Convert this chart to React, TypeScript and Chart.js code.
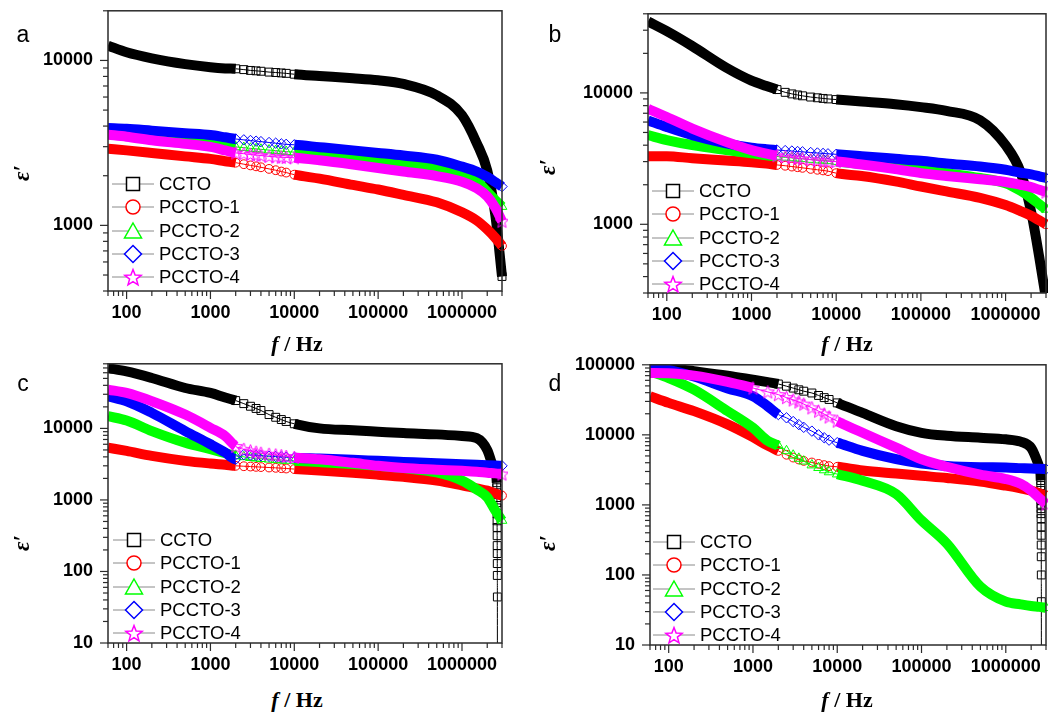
import React, { useEffect, useRef } from "react";
import { Chart, registerables } from "chart.js";

Chart.register(...registerables);

// ---------- data ----------
const FREQ = [60, 100, 200, 500, 1000, 1500, 2000, 2500, 3000, 3500, 4000, 5000, 6000, 7000, 8000, 10000, 20000, 50000, 100000, 200000, 500000, 1000000, 1500000, 2000000, 2500000, 3000000];
const TAIL_FREQ = [2600000, 2603000, 2606000, 2609000, 2612000, 2615000, 2618000, 2621000, 2624000, 2627000, 2630000, 2633000, 2636000, 2639000, 2642000, 2645000];

const SERIES_NAMES = ["CCTO", "PCCTO-1", "PCCTO-2", "PCCTO-3", "PCCTO-4"];
const SERIES_COLORS = ["#000000", "#ff0000", "#00ff00", "#0000ff", "#ff00ff"];

const X_TICK_LABELS = [100, 1000, 10000, 100000, 1000000];
const A_Y_LABELS = [1000, 10000];
const B_Y_LABELS = [1000, 10000];
const C_Y_LABELS = [10, 100, 1000, 10000];
const D_Y_LABELS = [10, 100, 1000, 10000, 100000];

// panel a
const A_CCTO = [12300, 11200, 10300, 9500, 9100, 8950, 8900, 8800, 8700, 8650, 8600, 8500, 8450, 8400, 8350, 8250, 8050, 7800, 7580, 7200, 6150, 4660, 3150, 2150, 1150, 490];
const A_P1 = [2920, 2850, 2750, 2620, 2530, 2450, 2400, 2350, 2310, 2280, 2250, 2200, 2160, 2120, 2090, 2030, 1920, 1760, 1650, 1530, 1380, 1200, 1070, 945, 840, 750];
const A_P2 = [3600, 3500, 3380, 3230, 3100, 3030, 2990, 2960, 2930, 2910, 2890, 2860, 2840, 2820, 2800, 2780, 2700, 2560, 2450, 2350, 2230, 2080, 1850, 1600, 1420, 1300];
const A_P3 = [3900, 3850, 3750, 3620, 3530, 3420, 3340, 3300, 3270, 3240, 3220, 3180, 3150, 3120, 3100, 3080, 2980, 2850, 2750, 2650, 2500, 2270, 2120, 1970, 1830, 1720];
const A_P4 = [3550, 3450, 3280, 3120, 2990, 2850, 2750, 2720, 2690, 2670, 2650, 2620, 2600, 2590, 2580, 2570, 2480, 2340, 2230, 2120, 1990, 1840, 1680, 1500, 1280, 1060];

// panel b
const B_CCTO = [35000, 29500, 22700, 15600, 12400, 11300, 10600, 10100, 9830, 9650, 9500, 9300, 9180, 9080, 9000, 8900, 8600, 8200, 7800, 7300, 6200, 4000, 2500, 1250, 560, 270];
const B_P1 = [3300, 3300, 3180, 3060, 2970, 2900, 2830, 2790, 2750, 2720, 2690, 2640, 2600, 2570, 2540, 2450, 2330, 2120, 1940, 1780, 1590, 1400, 1260, 1160, 1070, 1000];
const B_P2 = [4770, 4380, 4010, 3680, 3470, 3350, 3280, 3230, 3200, 3170, 3150, 3110, 3080, 3060, 3040, 3000, 2880, 2740, 2600, 2450, 2250, 2050, 1800, 1590, 1420, 1300];
const B_P3 = [6180, 5500, 4770, 4130, 3830, 3730, 3680, 3640, 3610, 3580, 3560, 3520, 3490, 3460, 3440, 3410, 3300, 3150, 3040, 2900, 2750, 2600, 2470, 2400, 2320, 2250];
const B_P4 = [7570, 6560, 5350, 4250, 3670, 3450, 3330, 3270, 3220, 3180, 3150, 3100, 3070, 3040, 3020, 3000, 2850, 2630, 2450, 2330, 2200, 2100, 2000, 1920, 1830, 1760];

// panel c
const C_CCTO = [69600, 62500, 50600, 36700, 31300, 27000, 24500, 22200, 20400, 19000, 17800, 15600, 14300, 13300, 12500, 11600, 10000, 9400, 8990, 8600, 8250, 7830, 7300, 5000, 2400, null];
const C_CCTO_TAIL = [1740, 1480, 1260, 1080, 917, 774, 640, 511, 412, 316, 230, 178, 129, 88, 44, 1];
const C_P1 = [5380, 4840, 4130, 3520, 3230, 3100, 3000, 2960, 2930, 2900, 2880, 2840, 2810, 2780, 2750, 2700, 2580, 2400, 2250, 2100, 1860, 1600, 1450, 1350, 1230, 1150];
const C_P2 = [14800, 12900, 9180, 6320, 5110, 4500, 4130, 4000, 3900, 3830, 3770, 3700, 3640, 3600, 3560, 3520, 3380, 3180, 3000, 2800, 2420, 1860, 1400, 1090, 710, 516];
const C_P3 = [28100, 24000, 16500, 9180, 6000, 4600, 3700, 4300, 4250, 4200, 4150, 4080, 4040, 4000, 3970, 3900, 3800, 3650, 3520, 3400, 3250, 3160, 3100, 3050, 3020, 3000];
const C_P4 = [34800, 31300, 24000, 15600, 10200, 7800, 5600, 5100, 4840, 4650, 4500, 4350, 4250, 4150, 4050, 3920, 3700, 3300, 3000, 2800, 2650, 2550, 2480, 2400, 2350, 2300];

// panel d
const D_CCTO = [94700, 89700, 81000, 70000, 61200, 56500, 53200, 49500, 46500, 44000, 42000, 39600, 36500, 34000, 32000, 28600, 20600, 13300, 10700, 9700, 9100, 8630, 8000, 6500, 3500, null];
const D_CCTO_TAIL = [2230, 1890, 1610, 1360, 1160, 1020, 884, 750, 637, 484, 369, 267, 182, 100, 41.5, 1];
const D_P1 = [35600, 28600, 21800, 14100, 9270, 7000, 5900, 5200, 4740, 4450, 4250, 4030, 3850, 3700, 3580, 3500, 3100, 2800, 2600, 2420, 2150, 1880, 1720, 1600, 1470, 1360];
const D_P2 = [80400, 64700, 44100, 21800, 12600, 8190, 7000, 5900, 5100, 4600, 4200, 3700, 3400, 3150, 2950, 2750, 2210, 1430, 600, 280, 68, 41.5, 38, 36, 35, 34];
const D_P3 = [94700, 84900, 68000, 46000, 35600, 25500, 19500, 17500, 15500, 14000, 12800, 11300, 10000, 9100, 8400, 7740, 5900, 4490, 3900, 3600, 3450, 3420, 3350, 3300, 3270, 3240];
const D_P4 = [76300, 76000, 70000, 57000, 46600, 41000, 37500, 34000, 31500, 29500, 27500, 24300, 21800, 19800, 18000, 15700, 10700, 6570, 4490, 3500, 2700, 2340, 2000, 1600, 1250, 1030];

// ---------- layout / style ----------
const Y_AXIS_W = 108;
const X_AXIS_H = 44;
const PAD_T = 24;
const PAD_R = 24;
const BAND = 10;
const POINT_STYLES = ["rect", "circle", "triangle", "rectRot", "star"];
const POINT_RADII = [5.6, 4.4, 5.6, 5.2, 6];
const TICK_FONT = "'Liberation Sans', Arial, sans-serif";

type PanelDef = {
  id: string;
  l: number; t: number; r: number; b: number;
  yMin: number; yMax: number; yLabels: number[];
  series: (number | null)[][];
  tail: number[] | null;
  p4Sparse: number;
  legend: { x: number; y: number };
  letter: { x: number; y: number };
  xTitle: { x: number; y: number };
  yTitle: { x: number; y: number };
};

const PANELS: PanelDef[] = [
  { id: "a", l: 108, t: 9, r: 502, b: 291, yMin: 400, yMax: 20000, yLabels: A_Y_LABELS,
    series: [A_CCTO, A_P1, A_P2, A_P3, A_P4], tail: null, p4Sparse: 2000,
    legend: { x: 112, y: 184 }, letter: { x: 23, y: 34 }, xTitle: { x: 297, y: 344 }, yTitle: { x: 22, y: 173 } },
  { id: "b", l: 648, t: 12, r: 1046, b: 293, yMin: 300, yMax: 40000, yLabels: B_Y_LABELS,
    series: [B_CCTO, B_P1, B_P2, B_P3, B_P4], tail: null, p4Sparse: 2000,
    legend: { x: 652, y: 191 }, letter: { x: 555, y: 34 }, xTitle: { x: 847, y: 344 }, yTitle: { x: 548, y: 167 } },
  { id: "c", l: 108, t: 362, r: 502, b: 643, yMin: 10, yMax: 80000, yLabels: C_Y_LABELS,
    series: [C_CCTO, C_P1, C_P2, C_P3, C_P4], tail: C_CCTO_TAIL, p4Sparse: 2000,
    legend: { x: 113, y: 540 }, letter: { x: 23, y: 383 }, xTitle: { x: 297, y: 700 }, yTitle: { x: 22, y: 543 } },
  { id: "d", l: 650, t: 363, r: 1046, b: 645, yMin: 10, yMax: 100000, yLabels: D_Y_LABELS,
    series: [D_CCTO, D_P1, D_P2, D_P3, D_P4], tail: D_CCTO_TAIL, p4Sparse: 1000,
    legend: { x: 653, y: 542 }, letter: { x: 555, y: 383 }, xTitle: { x: 847, y: 700 }, yTitle: { x: 548, y: 543 } },
];

function logTicks(min: number, max: number) {
  const out: { value: number; major: boolean }[] = [];
  const e0 = Math.floor(Math.log10(min));
  const e1 = Math.ceil(Math.log10(max));
  for (let e = e0; e <= e1; e++) {
    for (let m = 1; m <= 9; m++) {
      const v = m * Math.pow(10, e);
      if (v >= min * 0.9999 && v <= max * 1.0001) out.push({ value: v, major: m === 1 });
    }
  }
  return out;
}

const hasLabel = (labels: number[], v: number) => labels.some((l) => Math.abs(l - v) / l < 1e-6);

function makeStar(color: string) {
  const c = document.createElement("canvas");
  c.width = 15;
  c.height = 15;
  const g = c.getContext("2d")!;
  g.strokeStyle = color;
  g.lineWidth = 1;
  g.beginPath();
  for (let i = 0; i < 10; i++) {
    const r = i % 2 === 0 ? 7 : 3;
    const a = -Math.PI / 2 + (i * Math.PI) / 5;
    const x = 7.5 + r * Math.cos(a);
    const y = 8 + r * Math.sin(a);
    if (i === 0) g.moveTo(x, y);
    else g.lineTo(x, y);
  }
  g.closePath();
  g.stroke();
  return c;
}

const frameTicks = {
  id: "frameTicks",
  afterDatasetsDraw(chart: any) {
    const { ctx, chartArea: a } = chart;
    ctx.save();
    ctx.strokeStyle = "#2b2b2b";
    ctx.lineWidth = 1.5;
    ctx.strokeRect(a.left, a.top, a.right - a.left, a.bottom - a.top);
    ctx.lineWidth = 1.2;
    const xs = chart.scales.x;
    xs.ticks.forEach((t: any) => {
      const px = xs.getPixelForValue(t.value);
      if (px < a.left - 1 || px > a.right + 1) return;
      const len = t.major ? 8 : 5;
      ctx.beginPath();
      ctx.moveTo(px, a.bottom);
      ctx.lineTo(px, a.bottom + len);
      ctx.stroke();
    });
    const ys = chart.scales.y;
    ys.ticks.forEach((t: any) => {
      const py = ys.getPixelForValue(t.value);
      if (py < a.top - 1 || py > a.bottom + 1) return;
      const len = t.major ? 8 : 5;
      ctx.beginPath();
      ctx.moveTo(a.left, py);
      ctx.lineTo(a.left - len, py);
      ctx.stroke();
    });
    ctx.restore();
  },
};

function buildDatasets(p: PanelDef, star: HTMLCanvasElement) {
  return SERIES_NAMES.map((name, si) => {
    const vals = p.series[si];
    const pts: { x: number; y: number }[] = [];
    FREQ.forEach((f, i) => {
      const v = vals[i];
      if (v != null) pts.push({ x: f, y: v });
    });
    let tailStart = Infinity;
    if (si === 0 && p.tail) {
      p.tail.forEach((v, i) => pts.push({ x: TAIL_FREQ[i], y: v }));
      tailStart = TAIL_FREQ[0];
    }
    const sparseStart = si === 4 ? p.p4Sparse : 2000;
    const isMarker = (x: number) => (x >= sparseStart && x <= 10000) || x >= tailStart;
    const last = pts.length - 1;
    return {
      label: name,
      data: pts,
      order: 5 - si,
      borderColor: SERIES_COLORS[si],
      backgroundColor: "rgba(0,0,0,0)",
      borderWidth: BAND,
      borderJoinStyle: "round",
      borderCapStyle: "butt",
      cubicInterpolationMode: "monotone",
      fill: false,
      pointStyle: si === 4 ? star : POINT_STYLES[si],
      pointRadius: (c: any) => {
        const pt = pts[c.dataIndex];
        if (!pt) return 0;
        return isMarker(pt.x) || c.dataIndex === last ? POINT_RADII[si] : 0;
      },
      pointHoverRadius: 0,
      pointBorderColor: SERIES_COLORS[si],
      pointBackgroundColor: "rgba(0,0,0,0)",
      pointBorderWidth: 1,
      segment: {
        borderWidth: (c: any) =>
          isMarker(pts[c.p0DataIndex].x) && isMarker(pts[c.p1DataIndex].x) ? 1 : BAND,
      },
      clip: { left: 0, top: 0, right: 6, bottom: 0 },
    };
  });
}

function PanelChart({ p }: { p: PanelDef }) {
  const ref = useRef<HTMLCanvasElement>(null);
  const left = p.l - Y_AXIS_W;
  const top = p.t - PAD_T;
  const w = p.r + PAD_R - left;
  const h = p.b + X_AXIS_H - top;
  useEffect(() => {
    const star = makeStar(SERIES_COLORS[4]);
    const chart = new Chart(ref.current!, {
      type: "line",
      data: { datasets: buildDatasets(p, star) as any },
      options: {
        responsive: false,
        maintainAspectRatio: false,
        animation: false,
        events: [],
        layout: { padding: { top: PAD_T, right: PAD_R, left: 0, bottom: 0 } },
        plugins: { legend: { display: false }, tooltip: { enabled: false }, title: { display: false } },
        scales: {
          x: {
            type: "logarithmic",
            min: 60,
            max: 3000000,
            afterBuildTicks: (s: any) => {
              s.ticks = logTicks(60, 3000000);
            },
            afterFit: (s: any) => {
              s.height = X_AXIS_H;
            },
            grid: { display: false, drawTicks: false },
            border: { display: false },
            ticks: {
              autoSkip: false,
              maxRotation: 0,
              minRotation: 0,
              padding: 11,
              color: "#000",
              font: { family: TICK_FONT, size: 18, weight: "bold" },
              callback: (v: any) => (hasLabel(X_TICK_LABELS, Number(v)) ? String(Number(v)) : ""),
            },
          },
          y: {
            type: "logarithmic",
            min: p.yMin,
            max: p.yMax,
            afterBuildTicks: (s: any) => {
              s.ticks = logTicks(p.yMin, p.yMax);
            },
            afterFit: (s: any) => {
              s.width = Y_AXIS_W;
            },
            grid: { display: false, drawTicks: false },
            border: { display: false },
            ticks: {
              autoSkip: false,
              padding: 15,
              color: "#000",
              font: { family: TICK_FONT, size: 18, weight: "bold" },
              callback: (v: any) => (hasLabel(p.yLabels, Number(v)) ? String(Number(v)) : ""),
            },
          },
        },
      } as any,
      plugins: [frameTicks],
    });
    return () => chart.destroy();
  }, []);
  return (
    <canvas
      ref={ref}
      width={w}
      height={h}
      style={{ position: "absolute", left, top, width: w, height: h }}
    />
  );
}

function LegendIcon({ si }: { si: number }) {
  const col = SERIES_COLORS[si];
  const common = { fill: "#fff", stroke: col, strokeWidth: 1.5 };
  let mark: any = null;
  if (si === 0) mark = <rect x={14.5} y={3.5} width={13} height={13} {...common} />;
  if (si === 1) mark = <circle cx={21} cy={10} r={7} {...common} />;
  if (si === 2) mark = <polygon points="21,2 29.5,17 12.5,17" {...common} />;
  if (si === 3) mark = <polygon points="21,1.5 29.5,10 21,18.5 12.5,10" {...common} />;
  if (si === 4) {
    const pts: string[] = [];
    for (let i = 0; i < 10; i++) {
      const r = i % 2 === 0 ? 8.5 : 3.6;
      const a = -Math.PI / 2 + (i * Math.PI) / 5;
      pts.push(`${(21 + r * Math.cos(a)).toFixed(2)},${(11 + r * Math.sin(a)).toFixed(2)}`);
    }
    mark = <polygon points={pts.join(" ")} {...common} />;
  }
  return (
    <svg width={42} height={20} style={{ position: "absolute", left: 0, top: 0 }}>
      <line x1={0} y1={10} x2={42} y2={10} stroke="#8a8a8a" strokeWidth={1} />
      {mark}
    </svg>
  );
}

function Legend({ p }: { p: PanelDef }) {
  return (
    <>
      {SERIES_NAMES.map((name, si) => {
        const cy = p.legend.y + si * 23.3;
        return (
          <div key={name} style={{ position: "absolute", left: p.legend.x, top: cy - 10, height: 20 }}>
            <LegendIcon si={si} />
            <div
              style={{
                position: "absolute",
                left: 47,
                top: -1,
                height: 22,
                lineHeight: "22px",
                whiteSpace: "nowrap",
                fontFamily: TICK_FONT,
                fontSize: 18.5,
                color: "#000",
              }}
            >
              {name}
            </div>
          </div>
        );
      })}
    </>
  );
}

function Overlays({ p }: { p: PanelDef }) {
  const center: any = { position: "absolute", transform: "translate(-50%, -50%)", whiteSpace: "nowrap" };
  return (
    <>
      <div style={{ ...center, left: p.letter.x, top: p.letter.y, fontFamily: TICK_FONT, fontSize: 23, color: "#000" }}>
        {p.id}
      </div>
      <div
        style={{
          ...center,
          left: p.xTitle.x,
          top: p.xTitle.y,
          fontFamily: "'Liberation Serif', 'Times New Roman', serif",
          fontWeight: "bold",
          fontSize: 22,
          color: "#000",
        }}
      >
        <i>f</i> / Hz
      </div>
      <div
        style={{
          ...center,
          left: p.yTitle.x,
          top: p.yTitle.y,
          transform: "translate(-50%, -50%) rotate(-90deg)",
          fontFamily: "'Liberation Serif', 'Times New Roman', serif",
          fontWeight: "bold",
          fontStyle: "italic",
          fontSize: 23,
          color: "#000",
        }}
      >
        ε′
      </div>
    </>
  );
}

export default function App() {
  return (
    <div
      style={{
        position: "absolute",
        left: 0,
        top: 0,
        width: 1048,
        height: 716,
        overflow: "hidden",
        background: "#fff",
      }}
    >
      {PANELS.map((p) => (
        <PanelChart key={"c" + p.id} p={p} />
      ))}
      {PANELS.map((p) => (
        <Legend key={"l" + p.id} p={p} />
      ))}
      {PANELS.map((p) => (
        <Overlays key={"o" + p.id} p={p} />
      ))}
    </div>
  );
}
